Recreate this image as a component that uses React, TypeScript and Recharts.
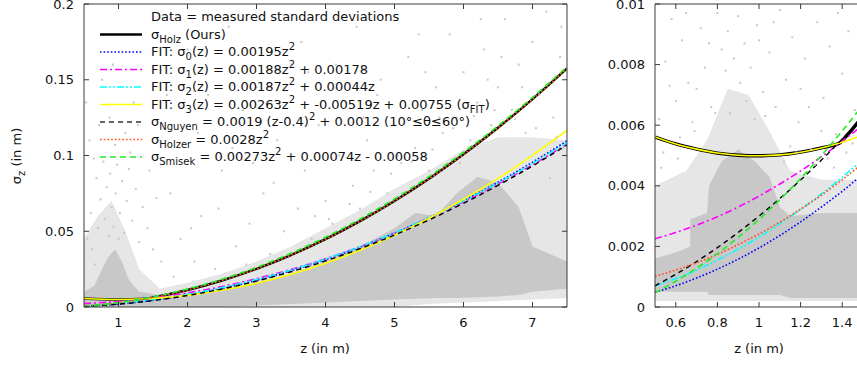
import React from 'react';
import { ComposedChart, Line, Area, Scatter, XAxis, YAxis } from 'recharts';

// ---------- Left panel (z 0.5..7.5) ----------
const leftZ = [0.5, 1.0, 1.4, 1.5, 2, 2.5, 3, 3.5, 4, 4.5, 5, 5.5, 6, 6.5, 7, 7.5];
const leftHolz = [0.00561, 0.00499, 0.00549, 0.0063, 0.0112, 0.0175, 0.0252, 0.0343, 0.0448, 0.0567, 0.07, 0.0847, 0.1008, 0.1183, 0.1372, 0.1575];
const leftFit0 = [0.00049, 0.00195, 0.00382, 0.00439, 0.0078, 0.01219, 0.01755, 0.02389, 0.0312, 0.03949, 0.04875, 0.05899, 0.0702, 0.08239, 0.09555, 0.10969];
const leftFit1 = [0.00225, 0.00366, 0.00546, 0.00601, 0.0093, 0.01353, 0.0187, 0.02481, 0.03186, 0.03985, 0.04878, 0.05865, 0.06946, 0.08121, 0.0939, 0.10753];
const leftFit2 = [0.00069, 0.00231, 0.00428, 0.00487, 0.00836, 0.01279, 0.01815, 0.02445, 0.03168, 0.03985, 0.04895, 0.05899, 0.06996, 0.08187, 0.09471, 0.10849];
const leftFit3 = [0.00561, 0.00499, 0.00544, 0.00568, 0.00769, 0.01101, 0.01565, 0.0216, 0.02887, 0.03745, 0.04735, 0.05856, 0.07109, 0.08493, 0.10009, 0.11656];
const leftNguyen = [0.00048, 0.0019, 0.00372, 0.00428, 0.0076, 0.01188, 0.0171, 0.02328, 0.0304, 0.03848, 0.0475, 0.05748, 0.0684, 0.08028, 0.0931, 0.10688];
const leftHolzer = [0.0007, 0.0028, 0.00549, 0.0063, 0.0112, 0.0175, 0.0252, 0.0343, 0.0448, 0.0567, 0.07, 0.0847, 0.1008, 0.1183, 0.1372, 0.1575];
const leftSmisek = [0.00047, 0.00289, 0.00581, 0.00667, 0.01182, 0.01833, 0.02621, 0.03545, 0.04606, 0.05803, 0.07137, 0.08607, 0.10214, 0.11957, 0.13837, 0.15853];

const leftCoreZ = [0.5, 0.65, 0.75, 0.85, 0.95, 1.05, 1.15, 1.3, 1.6, 2.0, 2.5, 3.0, 3.5, 4.0, 4.5, 5.0, 5.3, 5.6, 5.9, 6.2, 6.5, 6.8, 7.0, 7.5];
const leftCoreLow = [0, 0, 0, 0, 0, 0, 0, 0, 0, 0, 0, 0.001, 0.002, 0.003, 0.004, 0.005, 0.0055, 0.006, 0.006, 0.0065, 0.007, 0.008, 0.01, 0.012];
const leftCoreHigh = [0.010, 0.014, 0.024, 0.033, 0.038, 0.030, 0.018, 0.010, 0.008, 0.009, 0.011, 0.016, 0.022, 0.030, 0.040, 0.052, 0.062, 0.060, 0.075, 0.086, 0.082, 0.066, 0.04, 0.03];

const leftHaloZ = [0.5, 0.7, 0.9, 1.1, 1.3, 1.6, 2.0, 2.5, 3.0, 3.5, 4.0, 4.5, 5.0, 5.5, 6.0, 6.5, 7.0, 7.5];
const leftHaloLow = [0, 0, 0, 0, 0, 0, 0, 0, 0, 0, 0, 0, 0, 0.002, 0.003, 0.004, 0.005, 0.006];
const leftHaloHigh = [0.045, 0.06, 0.07, 0.05, 0.025, 0.012, 0.016, 0.022, 0.03, 0.04, 0.052, 0.064, 0.078, 0.09, 0.104, 0.112, 0.112, 0.11];

const leftDotZ = [0.55, 0.6, 0.62, 0.68, 0.7, 0.74, 0.78, 0.8, 0.83, 0.86, 0.88, 0.9, 0.93, 0.96, 0.98, 1.02, 1.05, 1.08, 1.12, 1.15, 1.2, 1.25, 1.3, 1.35, 1.42, 1.5, 1.55, 1.62, 0.58, 0.72, 0.95, 1.1, 0.66, 1.0,
  1.8, 1.9, 2.1, 2.2, 2.4, 2.5, 2.7, 2.8, 2.9, 3.1, 3.2, 3.3, 3.4, 3.5, 2.0, 2.6, 1.7, 3.0,
  3.6, 3.7, 3.8, 3.9, 4.0, 4.1, 4.2, 4.3, 4.4, 4.5, 4.6, 4.7, 4.8, 4.9, 5.0, 5.1, 5.2, 5.3, 5.4, 5.5, 5.6, 5.7, 5.8, 5.9, 6.0, 6.1, 6.2, 6.3, 6.4, 6.5, 6.6, 6.7, 6.8, 6.9, 7.0, 7.1, 7.2, 7.3, 7.4, 7.45,
  4.05, 4.35, 4.65, 4.95, 5.25, 5.55, 5.85, 6.15, 6.45, 6.75, 7.05, 7.35,
  0.53, 0.64, 0.76, 0.87, 1.17, 1.28, 1.45, 1.58, 1.75, 2.05, 2.3, 2.45, 2.65, 2.85, 3.05, 3.25, 3.45, 3.65, 3.85, 4.15, 4.45, 4.75, 5.05, 5.35, 5.65, 5.95, 6.25, 6.55, 6.85, 7.15, 7.42, 1.22, 0.92, 2.15, 2.95, 3.75, 4.55, 5.45, 6.35, 7.25];
const leftDotV = [0.045, 0.062, 0.038, 0.085, 0.052, 0.071, 0.096, 0.058, 0.079, 0.047, 0.088, 0.066, 0.053, 0.075, 0.094, 0.062, 0.083, 0.049, 0.07, 0.091, 0.057, 0.078, 0.043, 0.066, 0.052, 0.038, 0.072, 0.03, 0.11, 0.12, 0.107, 0.115, 0.028, 0.045,
  0.02, 0.045, 0.03, 0.06, 0.025, 0.09, 0.04, 0.13, 0.055, 0.075, 0.035, 0.11, 0.05, 0.16, 0.17, 0.185, 0.14, 0.145,
  0.065, 0.09, 0.045, 0.12, 0.07, 0.055, 0.1, 0.135, 0.08, 0.065, 0.11, 0.09, 0.15, 0.075, 0.12, 0.095, 0.165, 0.105, 0.13, 0.09, 0.145, 0.115, 0.18, 0.125, 0.155, 0.11, 0.135, 0.17, 0.12, 0.145, 0.19, 0.13, 0.16, 0.115, 0.175, 0.14, 0.195, 0.125, 0.165, 0.105,
  0.058, 0.068, 0.076, 0.088, 0.096, 0.104, 0.118, 0.126, 0.13, 0.124, 0.118, 0.112,
  0.135, 0.098, 0.15, 0.125, 0.102, 0.12, 0.09, 0.11, 0.075, 0.052, 0.14, 0.065, 0.105, 0.028, 0.19, 0.082, 0.125, 0.175, 0.06, 0.16, 0.185, 0.14, 0.1, 0.18, 0.125, 0.095, 0.19, 0.165, 0.145, 0.1, 0.185, 0.135, 0.16, 0.115, 0.095, 0.155, 0.125, 0.155, 0.15, 0.085];

// ---------- Right panel (z 0.5..1.5) ----------
const rightZ = [0.5, 0.6, 0.7, 0.8, 0.9, 1.0, 1.1, 1.2, 1.3, 1.4, 1.5];
const rightHolzZ = [0.5, 0.6, 0.7, 0.8, 0.9, 1.0, 1.1, 1.2, 1.3, 1.39, 1.4, 1.5];
const rightHolz = [0.00561, 0.00538, 0.00521, 0.00508, 0.00501, 0.00499, 0.00502, 0.00511, 0.00525, 0.00542, 0.00549, 0.0063];
const rightFit0 = [0.00049, 0.0007, 0.00096, 0.00125, 0.00158, 0.00195, 0.00236, 0.00281, 0.0033, 0.00382, 0.00439];
const rightFit1 = [0.00225, 0.00246, 0.0027, 0.00298, 0.0033, 0.00366, 0.00406, 0.00449, 0.00496, 0.00547, 0.00601];
const rightFit2 = [0.00069, 0.00094, 0.00122, 0.00155, 0.00191, 0.00231, 0.00275, 0.00322, 0.00373, 0.00428, 0.00487];
const rightFit3 = [0.00561, 0.00538, 0.00521, 0.00508, 0.00501, 0.00499, 0.00502, 0.00511, 0.00525, 0.00544, 0.00568];
const rightNguyen = [0.0007, 0.00108, 0.0015, 0.00196, 0.00246, 0.003, 0.00358, 0.00419, 0.00485, 0.00554, 0.00628];
const rightHolzer = [0.00101, 0.00122, 0.00146, 0.00174, 0.00206, 0.00241, 0.0028, 0.00323, 0.00369, 0.0042, 0.00474];
const rightSmisek = [0.00047, 0.00085, 0.00128, 0.00176, 0.0023, 0.00289, 0.00354, 0.00424, 0.005, 0.00581, 0.00667];

const rightCoreZ = [0.5, 0.6, 0.669, 0.67, 0.75, 0.76, 0.82, 0.9, 0.98, 1.05, 1.1, 1.15, 1.3, 1.5];
const rightCoreLow = [0.0005, 0.0005, 0.0005, 0.0005, 0.0005, 0.0004, 0.0004, 0.0004, 0.0004, 0.0004, 0.0004, 0.0003, 0.0003, 0.0003];
const rightCoreHigh = [0.0016, 0.0018, 0.002, 0.0029, 0.0031, 0.004, 0.0048, 0.0052, 0.0048, 0.0043, 0.0033, 0.003, 0.0031, 0.0031];

const rightHaloZ = [0.5, 0.65, 0.75, 0.85, 0.95, 1.05, 1.15, 1.3, 1.5];
const rightHaloLow = [0.0002, 0.0002, 0.0002, 0.0002, 0.0002, 0.0002, 0.0002, 0.0002, 0.0002];
const rightHaloHigh = [0.004, 0.0045, 0.0055, 0.0072, 0.007, 0.0058, 0.0045, 0.0042, 0.0042];

const rightDotZ = [0.52, 0.55, 0.58, 0.6, 0.63, 0.66, 0.69, 0.72, 0.74, 0.77, 0.8, 0.82, 0.85, 0.88, 0.9, 0.93, 0.96, 0.99, 1.02, 1.05, 1.08, 1.1, 1.13, 1.16, 1.19, 1.22, 1.25, 1.28, 1.31, 1.34, 1.37, 1.4, 1.43, 1.46, 1.48,
  0.54, 0.62, 0.7, 0.76, 0.86, 0.94, 1.0, 1.07, 1.15, 1.24, 1.33, 1.45, 0.57, 0.65, 0.98, 1.2, 1.3, 1.38,
  0.53, 0.61, 0.68, 0.79, 0.84, 0.91, 1.03, 1.12, 1.18, 1.27, 1.36, 1.42];
const rightDotV = [0.0062, 0.0081, 0.0095, 0.0068, 0.0088, 0.0074, 0.0058, 0.0092, 0.0079, 0.0066, 0.0097, 0.0085, 0.0091, 0.0082, 0.0096, 0.0087, 0.0079, 0.0093, 0.0071, 0.0084, 0.0066, 0.0098, 0.0075, 0.0089, 0.0061, 0.0082, 0.0052, 0.0094, 0.0069, 0.0086, 0.0057, 0.0077, 0.0091, 0.0065, 0.0083,
  0.0051, 0.0056, 0.0072, 0.0087, 0.0064, 0.0068, 0.0088, 0.0094, 0.0053, 0.0066, 0.0049, 0.0054, 0.0073, 0.0097, 0.0062, 0.0072, 0.0058, 0.0097,
  0.0046, 0.0049, 0.0061, 0.0064, 0.0078, 0.0074, 0.0063, 0.0048, 0.0051, 0.0047, 0.0046, 0.0051];

// ---------- tick labels ----------
const leftXTicks = [1, 2, 3, 4, 5, 6, 7];
const leftYTicks = [0, 0.05, 0.1, 0.15, 0.2];
const leftYTickLabels = ['0', '0.05', '0.1', '0.15', '0.2'];
const rightXTicks = [0.6, 0.8, 1, 1.2, 1.4];
const rightXTickLabels = ['0.6', '0.8', '1', '1.2', '1.4'];
const rightYTicks = [0, 0.002, 0.004, 0.006, 0.008, 0.01];
const rightYTickLabels = ['0', '0.002', '0.004', '0.006', '0.008', '0.01'];

// ---------- styles ----------
const FONT = '"DejaVu Sans", Verdana, sans-serif';
const BORDER = '#3a3a3a';
const DOT = '#c8c8c8';

type Style = { color: string; width: number; dash?: string };
const sHolz: Style = { color: '#000000', width: 2.4 };
const sFit0: Style = { color: '#0000ff', width: 1.6, dash: '1.6 2' };
const sFit1: Style = { color: '#ff00ff', width: 1.6, dash: '7 3 2 3' };
const sFit2: Style = { color: '#00ffff', width: 1.6, dash: '7 2 2 2 2 2' };
const sFit3: Style = { color: '#ffff00', width: 1.6 };
const sNguyen: Style = { color: '#000000', width: 1.4, dash: '5 4' };
const sHolzer: Style = { color: '#ff5522', width: 1.7, dash: '1.7 2' };
const sSmisek: Style = { color: '#22ee22', width: 1.6, dash: '6 4' };

const pts = (xs: number[], ys: number[]) => xs.map((z, i) => ({ z, v: ys[i] }));
const rng = (xs: number[], lo: number[], hi: number[]) => xs.map((z, i) => ({ z, r: [lo[i], hi[i]] }));

const fmt = (vals: number[], labels: string[]) => (v: number) => {
  const i = vals.findIndex((t) => Math.abs(t - v) < 1e-9);
  return i >= 0 ? labels[i] : String(v);
};

const TickBottom = (props: any) => {
  const { x, y, payload, label } = props;
  return (
    <g>
      <line x1={x} y1={y} x2={x} y2={y - 5} stroke={BORDER} strokeWidth={1} />
      <text x={x} y={y + 20} textAnchor="middle" fontFamily={FONT} fontSize={13} fill="#111">{label(payload.value)}</text>
    </g>
  );
};
const TickTop = (props: any) => {
  const { x, y } = props;
  return <line x1={x} y1={y} x2={x} y2={y + 5} stroke={BORDER} strokeWidth={1} />;
};
const TickLeft = (props: any) => {
  const { x, y, payload, label } = props;
  return (
    <g>
      <line x1={x} y1={y} x2={x + 5} y2={y} stroke={BORDER} strokeWidth={1} />
      <text x={x - 10} y={y + 4.5} textAnchor="end" fontFamily={FONT} fontSize={13} fill="#111">{label(payload.value)}</text>
    </g>
  );
};
const TickRight = (props: any) => {
  const { x, y } = props;
  return <line x1={x} y1={y} x2={x - 5} y2={y} stroke={BORDER} strokeWidth={1} />;
};

const DotShape = (p: any) => <rect x={p.cx - 1} y={p.cy - 1} width={2} height={2} fill={DOT} />;

type PanelProps = {
  width: number; height: number; margin: any;
  xDomain: number[]; yDomain: number[];
  xTicks: number[]; yTicks: number[];
  xLabel: (v: number) => string; yLabel: (v: number) => string;
  halo: any[]; core: any[]; dots: any[];
  lines: { data: any[]; s: Style; key: string }[];
};

function Panel(p: PanelProps) {
  return (
    <ComposedChart width={p.width} height={p.height} margin={p.margin}>
      <XAxis xAxisId="b" dataKey="z" type="number" domain={p.xDomain} ticks={p.xTicks} allowDataOverflow
        height={1} tickSize={0} tickMargin={0} tickLine={false} interval={0}
        axisLine={{ stroke: BORDER, strokeWidth: 1 }} tick={<TickBottom label={p.xLabel} />} />
      <XAxis xAxisId="t" orientation="top" dataKey="z" type="number" domain={p.xDomain} ticks={p.xTicks} allowDataOverflow
        height={1} tickSize={0} tickMargin={0} tickLine={false} interval={0}
        axisLine={{ stroke: BORDER, strokeWidth: 1 }} tick={<TickTop />} />
      <YAxis yAxisId="l" type="number" domain={p.yDomain} ticks={p.yTicks} allowDataOverflow
        width={1} tickSize={0} tickMargin={0} tickLine={false} interval={0}
        axisLine={{ stroke: BORDER, strokeWidth: 1 }} tick={<TickLeft label={p.yLabel} />} />
      <YAxis yAxisId="r" orientation="right" type="number" domain={p.yDomain} ticks={p.yTicks} allowDataOverflow
        width={1} tickSize={0} tickMargin={0} tickLine={false} interval={0}
        axisLine={{ stroke: BORDER, strokeWidth: 1 }} tick={<TickRight />} />
      <Area xAxisId="b" yAxisId="l" data={p.halo} dataKey="r" type="linear" stroke="none" fill="#e6e6e6" fillOpacity={1} isAnimationActive={false} />
      <Area xAxisId="t" yAxisId="r" data={p.core} dataKey="r" type="linear" stroke="none" fill={DOT} fillOpacity={1} isAnimationActive={false} />
      <Scatter xAxisId="b" yAxisId="l" data={p.dots} dataKey="v" shape={DotShape} isAnimationActive={false} />
      {p.lines.map((l) => (
        <Line key={l.key} xAxisId="b" yAxisId="l" data={l.data} dataKey="v" type="monotone" stroke={l.s.color}
          strokeWidth={l.s.width} strokeDasharray={l.s.dash} dot={false} activeDot={false} isAnimationActive={false} />
      ))}
    </ComposedChart>
  );
}

const subStyle: React.CSSProperties = { fontSize: 10, position: 'relative', top: 4, lineHeight: 0, verticalAlign: 'baseline' };
const supStyle: React.CSSProperties = { fontSize: 10, position: 'relative', top: -6, lineHeight: 0, verticalAlign: 'baseline' };
const Sb = ({ children }: any) => <span style={subStyle}>{children}</span>;
const Sp = ({ children }: any) => <span style={supStyle}>{children}</span>;

const legendRows: { s?: Style; text: React.ReactNode }[] = [
  { text: 'Data = measured standard deviations' },
  { s: sHolz, text: <>σ<Sb>Holz</Sb> (Ours)</> },
  { s: sFit0, text: <>FIT: σ<Sb>0</Sb>(z) = 0.00195z<Sp>2</Sp></> },
  { s: sFit1, text: <>FIT: σ<Sb>1</Sb>(z) = 0.00188z<Sp>2</Sp> + 0.00178</> },
  { s: sFit2, text: <>FIT: σ<Sb>2</Sb>(z) = 0.00187z<Sp>2</Sp> + 0.00044z</> },
  { s: sFit3, text: <>FIT: σ<Sb>3</Sb>(z) = 0.00263z<Sp>2</Sp> + -0.00519z + 0.00755 (σ<Sb>FIT</Sb>)</> },
  { s: { ...sNguyen, color: '#333333' }, text: <>σ<Sb>Nguyen</Sb> = 0.0019 (z-0.4)<Sp>2</Sp> + 0.0012 (10°≤θ≤60°)</> },
  { s: sHolzer, text: <>σ<Sb>Holzer</Sb> = 0.0028z<Sp>2</Sp></> },
  { s: sSmisek, text: <>σ<Sb>Smisek</Sb> = 0.00273z<Sp>2</Sp> + 0.00074z - 0.00058</> },
];

function Legend() {
  const top = 17;
  const step = 17.5;
  return (
    <>
      <svg style={{ position: 'absolute', left: 0, top: 0 }} width={160} height={170}>
        {legendRows.map((r, i) => r.s ? (
          <line key={i} x1={100} x2={142} y1={top + i * step} y2={top + i * step} stroke={r.s.color}
            strokeWidth={r.s.width} strokeDasharray={r.s.dash} />
        ) : null)}
      </svg>
      {legendRows.map((r, i) => (
        <div key={i} style={{ position: 'absolute', left: 151, top: top + i * step - 9, height: 18, lineHeight: '18px',
          fontFamily: FONT, fontSize: 13, color: '#111', whiteSpace: 'nowrap' }}>{r.text}</div>
      ))}
    </>
  );
}

export default function App() {
  const leftLines = [
    { key: 'holz', data: pts(leftZ, leftHolz), s: sHolz },
    { key: 'f0', data: pts(leftZ, leftFit0), s: sFit0 },
    { key: 'f1', data: pts(leftZ, leftFit1), s: sFit1 },
    { key: 'f2', data: pts(leftZ, leftFit2), s: sFit2 },
    { key: 'f3', data: pts(leftZ, leftFit3), s: sFit3 },
    { key: 'ng', data: pts(leftZ, leftNguyen), s: sNguyen },
    { key: 'ho', data: pts(leftZ, leftHolzer), s: sHolzer },
    { key: 'sm', data: pts(leftZ, leftSmisek), s: sSmisek },
  ];
  const rightLines = [
    { key: 'holz', data: pts(rightHolzZ, rightHolz), s: { ...sHolz, width: 3.4 } },
    { key: 'f0', data: pts(rightZ, rightFit0), s: sFit0 },
    { key: 'f1', data: pts(rightZ, rightFit1), s: sFit1 },
    { key: 'f2', data: pts(rightZ, rightFit2), s: sFit2 },
    { key: 'f3', data: pts(rightZ, rightFit3), s: sFit3 },
    { key: 'ng', data: pts(rightZ, rightNguyen), s: sNguyen },
    { key: 'ho', data: pts(rightZ, rightHolzer), s: sHolzer },
    { key: 'sm', data: pts(rightZ, rightSmisek), s: sSmisek },
  ];
  return (
    <div style={{ position: 'fixed', left: 0, top: 0, width: 857, height: 367, overflow: 'hidden', background: '#fff' }}>
      <div style={{ position: 'absolute', left: 0, top: 0 }}>
        <Panel width={600} height={367} margin={{ top: 3, left: 83, right: 32, bottom: 59 }}
          xDomain={[0.5, 7.5]} yDomain={[0, 0.2]} xTicks={leftXTicks} yTicks={leftYTicks}
          xLabel={(v) => String(v)} yLabel={fmt(leftYTicks, leftYTickLabels)}
          halo={rng(leftHaloZ, leftHaloLow, leftHaloHigh)} core={rng(leftCoreZ, leftCoreLow, leftCoreHigh)}
          dots={pts(leftDotZ, leftDotV)} lines={leftLines} />
      </div>
      <div style={{ position: 'absolute', left: 600, top: 0 }}>
        <Panel width={300} height={367} margin={{ top: 3, left: 54, right: 36, bottom: 59 }}
          xDomain={[0.5, 1.5]} yDomain={[0, 0.01]} xTicks={rightXTicks} yTicks={rightYTicks}
          xLabel={fmt(rightXTicks, rightXTickLabels)} yLabel={fmt(rightYTicks, rightYTickLabels)}
          halo={rng(rightHaloZ, rightHaloLow, rightHaloHigh)} core={rng(rightCoreZ, rightCoreLow, rightCoreHigh)}
          dots={pts(rightDotZ, rightDotV)} lines={rightLines} />
      </div>
      <Legend />
      <div style={{ position: 'absolute', left: 16, top: 156, transform: 'translate(-50%, -50%) rotate(-90deg)',
        fontFamily: FONT, fontSize: 13, color: '#111', whiteSpace: 'nowrap' }}>
        σ<Sb>z</Sb> (in m)
      </div>
      <div style={{ position: 'absolute', left: 325, top: 348, transform: 'translate(-50%, -50%)',
        fontFamily: FONT, fontSize: 13, color: '#111', whiteSpace: 'nowrap' }}>z (in m)</div>
      <div style={{ position: 'absolute', left: 759, top: 348, transform: 'translate(-50%, -50%)',
        fontFamily: FONT, fontSize: 13, color: '#111', whiteSpace: 'nowrap' }}>z (in m)</div>
    </div>
  );
}
